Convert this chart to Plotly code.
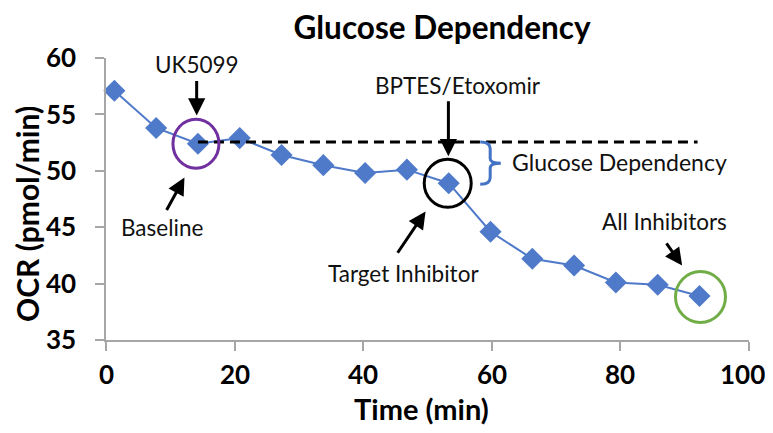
import plotly.graph_objects as go

time_min = [1.3, 7.8, 14.3, 20.8, 27.3, 33.8, 40.3, 46.8, 53.3, 59.8, 66.3, 72.8, 79.3, 85.8, 92.3]
ocr = [57.1, 53.8, 52.4, 52.9, 51.4, 50.5, 49.8, 50.1, 48.9, 44.6, 42.2, 41.6, 40.1, 39.9, 38.9]
x_ticks = [0, 20, 40, 60, 80, 100]
y_ticks = [35, 40, 45, 50, 55, 60]

baseline_idx = 2
target_idx = 8
all_idx = 14
baseline_level = 52.55
dash_end = 92.0

FONT = "Lato"
BLUE = "#4F79C9"

# figure sized so that the page (with its default 8px body margin) fits the 773x433 window
W, H = 757, 417
L, R, T, B = 98, 16, 50, 85
PW, PH = W - L - R, H - T - B

fig = go.Figure()
fig.add_trace(go.Scatter(
    x=time_min, y=ocr, mode="lines+markers",
    line=dict(color=BLUE, width=2),
    marker=dict(symbol="diamond", size=17, color=BLUE),
    showlegend=False, hoverinfo="skip", cliponaxis=False))

shapes = []
shapes.append(dict(type="line", xref="x", yref="y",
                   x0=time_min[baseline_idx], x1=dash_end, y0=baseline_level, y1=baseline_level,
                   line=dict(color="black", width=3, dash="10px,6px")))

def circ(idx, w, h, color, dx=0, dy=0):
    return dict(type="circle", xref="x", yref="y", xsizemode="pixel", ysizemode="pixel",
                xanchor=time_min[idx], yanchor=ocr[idx],
                x0=-w / 2 + dx, x1=w / 2 + dx, y0=-h / 2 + dy, y1=h / 2 + dy,
                line=dict(color=color, width=3))

shapes.append(circ(baseline_idx, 46, 49, "#7030A0", dx=-2))
shapes.append(circ(target_idx, 47, 48, "black", dx=-1))
shapes.append(circ(all_idx, 50, 51, "#70AD47", dx=1, dy=-1))

# curly bracket
bx, bl, br = 59.75, 58.2, 61.4
top, bot = baseline_level, 48.8
mid = (top + bot) / 2
path = (f"M {bl},{top} Q {bx},{top} {bx},{top-0.6} L {bx},{mid+0.4} "
        f"Q {bx},{mid} {br},{mid} Q {bx},{mid} {bx},{mid-0.4} L {bx},{bot+0.6} "
        f"Q {bx},{bot} {bl},{bot}")
shapes.append(dict(type="path", xref="x", yref="y", path=path,
                   line=dict(color="#4472C4", width=3)))

anns = []
def txt(x, y, s, size=22.5, xanchor="center"):
    anns.append(dict(x=x, y=y, xref="x", yref="y", text=s, showarrow=False,
                     xanchor=xanchor, yanchor="middle",
                     font=dict(family=FONT, size=size, color="#111111")))

def arrow(x0, y0, x1, y1):
    anns.append(dict(x=x1, y=y1, ax=x0, ay=y0, xref="x", yref="y", axref="x", ayref="y",
                     text="", showarrow=True, arrowhead=2, arrowsize=1.15, arrowwidth=3,
                     arrowcolor="black"))

txt(14.1, 59.4, "UK5099")
arrow(14.1, 58.1, 14.1, 54.9)
txt(8.7, 45.0, "Baseline")
arrow(9.3, 46.4, 12.2, 49.4)
txt(54.8, 57.6, "BPTES/Etoxomir")
arrow(53.25, 56.3, 53.25, 51.3)
txt(46.3, 40.9, "Target Inhibitor")
arrow(45.2, 42.6, 49.7, 46.4)
txt(86.8, 45.5, "All Inhibitors")
arrow(87.0, 43.7, 89.6, 41.6)
txt(62.8, 50.8, "Glucose Dependency", size=23, xanchor="left")

# x tick labels, placed on the x scale (last one nudged to stay inside the page)
for v in x_ticks:
    anns.append(dict(x=v, xref="x", yref="paper", y=(H - B - 366) / PH,
                     text=f"<b>{v}</b>", showarrow=False, xanchor="center", yanchor="middle",
                     xshift=-7 if v == x_ticks[-1] else 0,
                     font=dict(family=FONT, size=26, color="black")))

# axis titles
anns.append(dict(xref="paper", yref="paper", x=(413 - L) / PW, y=(H - B - 400) / PH,
                 text="<b>Time (min)</b>", showarrow=False, xanchor="center", yanchor="middle",
                 font=dict(family=FONT, size=29, color="black")))
anns.append(dict(xref="paper", yref="paper", x=(19 - L) / PW, y=(H - B - 206) / PH,
                 text="<b>OCR (pmol/min)</b>", showarrow=False, textangle=-90,
                 xanchor="center", yanchor="middle",
                 font=dict(family=FONT, size=30, color="black")))

fig.update_layout(
    width=W, height=H,
    margin=dict(l=L, r=R, t=T, b=B, autoexpand=False),
    paper_bgcolor="white", plot_bgcolor="white",
    title=dict(text="<b>Glucose Dependency</b>", x=434 / W, xanchor="center",
               y=1 - 20 / H, yanchor="middle",
               font=dict(family=FONT, size=31.5, color="black")),
    shapes=shapes, annotations=anns,
    font=dict(family=FONT, color="black"),
)
fig.update_xaxes(range=[0, 100], tickvals=x_ticks, showticklabels=False,
                 showgrid=False, zeroline=False, showline=True, linecolor="#A6A6A6", linewidth=1.5,
                 ticks="outside", ticklen=9, tickcolor="#A6A6A6", tickwidth=1.5, automargin=False)
fig.update_yaxes(range=[35, 60], tickvals=y_ticks, ticktext=[f"<b>{v}</b>" for v in y_ticks],
                 showgrid=False, zeroline=False, showline=True, linecolor="#A6A6A6", linewidth=1.5,
                 ticks="outside", ticklen=9, tickcolor="#A6A6A6", tickwidth=1.5,
                 ticklabelstandoff=14, automargin=False,
                 tickfont=dict(family=FONT, size=26, color="black"))

fig.write_html("out.html")
